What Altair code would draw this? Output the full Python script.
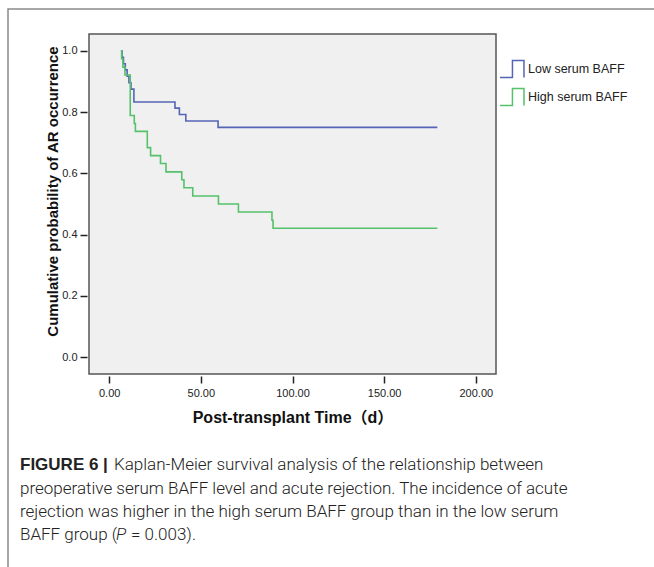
import altair as alt
import pandas as pd

# ---- data ----
low_t = [6.4, 7.0, 7.8, 8.8, 9.8, 10.8, 11.9, 13.5, 35.9, 38.3, 41.8, 59.4, 179]
low_s = [1.0, 0.979, 0.958, 0.938, 0.917, 0.896, 0.875, 0.833, 0.813, 0.792, 0.771, 0.750, 0.750]
high_t = [6.4, 6.8, 7.5, 8.6, 11.5, 13.7, 14.3, 20.8, 22.6, 28.0, 31.0, 39.6, 40.8,
          45.6, 59.6, 70.5, 88.8, 89.4, 179]
high_s = [1.0, 0.974, 0.947, 0.921, 0.789, 0.763, 0.737, 0.684, 0.658, 0.632, 0.605,
          0.579, 0.553, 0.526, 0.500, 0.474, 0.447, 0.421, 0.421]
groups = ["Low serum BAFF", "High serum BAFF"]
colors = ["#5564b4", "#55c16a"]
x_ticks = [0, 50, 100, 150, 200]
y_ticks = [0.0, 0.2, 0.4, 0.6, 0.8, 1.0]
caption_bold = "FIGURE 6 |"
caption_lines = [
    "Kaplan-Meier survival analysis of the relationship between",
    "preoperative serum BAFF level and acute rejection. The incidence of acute",
    "rejection was higher in the high serum BAFF group than in the low serum",
]
caption_last = ["BAFF group (", "P", "= 0.003)."]

low_df = pd.DataFrame({"t": low_t, "s": low_s, "g": groups[0]})
high_df = pd.DataFrame({"t": high_t, "s": high_s, "g": groups[1]})

FONT = "Liberation Sans, Arial, 'Noto Sans CJK SC'"
CAP_FONT = "Roboto, 'Liberation Sans', sans-serif"
CAP_SIZE = 17

color = alt.Color(
    "g:N",
    scale=alt.Scale(domain=groups, range=colors),
    legend=alt.Legend(
        title=None,
        orient="none",
        legendX=413,
        legendY=25,
        padding=0,
        symbolType="M-1.33,0.94L0.05,0.94L0.05,-0.94L1.33,-0.94L1.33,0.94",
        symbolSize=324,
        symbolStrokeWidth=1.5,
        symbolFillColor="transparent",
        labelFont=FONT,
        labelFontSize=12.5,
        labelColor="#222",
        labelOffset=6,
        rowPadding=4,
    ),
)

x_enc = alt.X(
    "t:Q",
    scale=alt.Scale(domain=[-11, 211], nice=False, zero=False),
    axis=alt.Axis(
        values=x_ticks, format=".2f", title="Post-transplant Time（d）",
        domain=False, grid=False, offset=2, tickSize=7, tickColor="#222", tickWidth=1.5,
        labelFont=FONT, labelFontSize=11, labelColor="#222", labelPadding=4,
        titleFont=FONT, titleFontSize=16, titleFontWeight="bold", titleColor="#111",
        titleY=41, titleBaseline="middle",
    ),
)
y_enc = alt.Y(
    "s:Q",
    scale=alt.Scale(domain=[-0.055, 1.055], nice=False, zero=False),
    axis=alt.Axis(
        values=y_ticks, format=".1f", title="Cumulative probability of AR occurrence",
        domain=False, grid=False, offset=2, tickSize=7, tickColor="#222", tickWidth=1.5,
        labelFont=FONT, labelFontSize=11, labelColor="#222", labelPadding=3,
        titleFont=FONT, titleFontSize=15, titleFontWeight="bold", titleColor="#111",
        titleX=-35, titleY=157, titleBaseline="middle", titleAlign="center",
    ),
)

low_line = alt.Chart(low_df).mark_line(interpolate="step-after", strokeWidth=1.6).encode(
    x=x_enc, y=y_enc, color=color
)
high_line = alt.Chart(high_df).mark_line(interpolate="step-after", strokeWidth=1.6).encode(
    x="t:Q", y="s:Q", color=color
)

one = alt.Data(values=[{}])
frame = alt.Chart(one).mark_rect(filled=False, stroke="#8a8a8a", strokeWidth=1.5).encode(
    x=alt.value(-81), x2=alt.value(700), y=alt.value(-25), y2=alt.value(700)
)


def text_layer(txt, x, y, weight, font=CAP_FONT, style="normal"):
    df = pd.DataFrame({"line": [txt]})
    return alt.Chart(df).mark_text(
        align="left", baseline="middle", font=font, fontSize=CAP_SIZE,
        fontWeight=weight, fontStyle=style, color="#222"
    ).encode(text="line:N", x=alt.value(x), y=alt.value(y))


cap_layers = [
    text_layer(caption_bold, -69, 431, "bold", FONT),
    text_layer(caption_lines[0], 25, 431, 300),
    text_layer(caption_lines[1], -69, 455, 300),
    text_layer(caption_lines[2], -69, 478, 300),
    text_layer(caption_last[0], -69, 501, 300),
    text_layer(caption_last[1], 27, 501, 300, style="italic"),
    text_layer(caption_last[2], 42, 501, 300),
]

chart = alt.layer(frame, low_line, high_line, *cap_layers).properties(
    width=407,
    height=340,
    padding={"left": 89, "top": 34, "right": 158, "bottom": 193},
    autosize=alt.AutoSizeParams(type="none"),
    background="white",
).configure_view(
    fill="#f0f0f0", stroke="#555555", strokeWidth=1.5
)

chart.save("out.html", embed_options={"renderer": "svg", "actions": False})
